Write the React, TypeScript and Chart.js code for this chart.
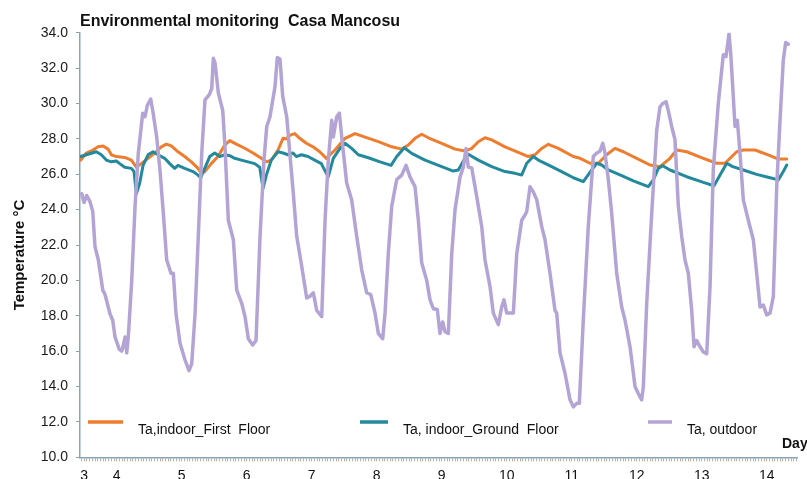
import React, { useEffect, useRef } from 'react';
import { Chart, registerables } from 'chart.js';

Chart.register(...registerables);

const TITLE = 'Environmental monitoring  Casa Mancosu';
const Y_TITLE = 'Temperature °C';
const X_TITLE = 'Day';
const SERIES_NAMES = ['Ta,indoor_First  Floor', 'Ta, indoor_Ground  Floor', 'Ta, outdoor'];
const COLORS = ['#ef7d2f', '#23899c', '#b4a4d6'];

const Y_MIN = 10;
const Y_MAX = 34;
const Y_STEP = 2;
const X_MIN = 3.435;
const X_MAX = 14.466;
const DAY_TICKS = [3.5, 4, 5, 6, 7, 8, 9, 10, 11, 12, 13, 14];
const DAY_LABELS = ['3', '4', '5', '6', '7', '8', '9', '10', '11', '12', '13', '14'];

// Ta, outdoor
const outdoorDay = [
  3.462, 3.497, 3.538, 3.589, 3.631, 3.666, 3.717, 3.785, 3.82, 3.897,
  3.938, 3.974, 4.04, 4.077, 4.102, 4.128, 4.154, 4.178, 4.231, 4.282,
  4.332, 4.4, 4.435, 4.471, 4.523, 4.554, 4.615, 4.666, 4.717, 4.769,
  4.835, 4.871, 4.912, 4.974, 5.051, 5.112, 5.154, 5.205, 5.255, 5.308,
  5.358, 5.425, 5.462, 5.486, 5.512, 5.563, 5.631, 5.666, 5.717, 5.794,
  5.846, 5.923, 5.974, 6.025, 6.092, 6.143, 6.205, 6.266, 6.308, 6.358,
  6.435, 6.471, 6.512, 6.554, 6.615, 6.717, 6.769, 6.846, 6.923, 6.974,
  7.025, 7.077, 7.154, 7.205, 7.255, 7.308, 7.332, 7.385, 7.425, 7.462,
  7.538, 7.615, 7.692, 7.769, 7.846, 7.908, 7.974, 8.025, 8.092, 8.128,
  8.178, 8.231, 8.308, 8.385, 8.451, 8.512, 8.589, 8.64, 8.692, 8.769,
  8.82, 8.871, 8.932, 8.974, 9.015, 9.051, 9.102, 9.154, 9.205, 9.282,
  9.332, 9.374, 9.409, 9.462, 9.538, 9.615, 9.666, 9.743, 9.794, 9.871,
  9.923, 9.958, 10.0, 10.102, 10.154, 10.231, 10.282, 10.308, 10.358, 10.409,
  10.462, 10.538, 10.589, 10.666, 10.743, 10.769, 10.82, 10.897, 10.974, 11.025,
  11.077, 11.117, 11.178, 11.255, 11.332, 11.385, 11.435, 11.477, 11.512, 11.563,
  11.615, 11.692, 11.769, 11.82, 11.897, 11.974, 12.025, 12.077, 12.102, 12.154,
  12.231, 12.308, 12.358, 12.4, 12.451, 12.486, 12.538, 12.589, 12.64, 12.692,
  12.743, 12.794, 12.846, 12.882, 12.923, 12.974, 13.025, 13.077, 13.128, 13.178,
  13.255, 13.308, 13.332, 13.374, 13.394, 13.42, 13.446, 13.477, 13.512, 13.548,
  13.589, 13.64, 13.717, 13.794, 13.846, 13.897, 13.948, 14.0, 14.051, 14.102,
  14.154, 14.205, 14.255, 14.292, 14.332,
];
const outdoorTemp = [
  24.9, 24.4, 24.8, 24.45, 23.9, 21.9, 21.15, 19.45, 19.2, 18.1,
  17.75, 16.8, 16.1, 16.0, 16.35, 16.8, 15.9, 16.8, 20.0, 24.2,
  27.2, 29.45, 29.25, 29.9, 30.25, 29.6, 28.1, 26.2, 23.8, 21.15,
  20.4, 20.4, 18.1, 16.45, 15.5, 14.9, 15.3, 18.1, 22.5, 27.2,
  30.2, 30.5, 30.85, 32.55, 32.3, 30.6, 29.6, 27.55, 23.4, 22.3,
  19.45, 18.7, 17.95, 16.7, 16.35, 16.6, 22.5, 26.8, 28.7, 29.25,
  30.95, 32.6, 32.5, 30.4, 29.25, 24.9, 22.5, 20.8, 19.0, 19.1,
  19.3, 18.3, 17.95, 23.4, 26.8, 29.05, 28.1, 29.25, 29.45, 28.1,
  25.5, 24.55, 22.5, 20.6, 19.3, 19.2, 18.15, 17.0, 16.7, 18.15,
  21.5, 24.2, 25.7, 25.95, 26.5, 25.85, 25.3, 23.4, 21.0, 20.0,
  18.9, 18.4, 18.35, 17.0, 17.65, 17.1, 17.0, 21.5, 24.0, 25.85,
  26.4, 27.45, 26.4, 26.35, 24.75, 23.05, 21.15, 19.65, 18.15, 17.5,
  18.5, 18.9, 18.15, 18.15, 21.5, 23.4, 23.7, 23.9, 25.3, 25.0,
  24.55, 23.05, 22.3, 20.4, 18.3, 18.15, 15.9, 14.75, 13.25, 12.85,
  13.05, 13.05, 17.75, 23.05, 27.0, 27.2, 27.3, 27.75, 27.2, 25.7,
  23.8, 20.4, 18.5, 17.75, 16.25, 14.0, 13.6, 13.25, 14.0, 18.7,
  23.8, 28.5, 29.8, 30.0, 30.1, 29.6, 28.7, 27.95, 24.2, 22.5,
  21.15, 20.4, 18.3, 16.25, 16.6, 16.25, 15.95, 15.85, 19.65, 26.25,
  30.0, 31.9, 32.75, 32.65, 33.2, 33.95, 32.85, 30.95, 28.7, 29.05,
  27.2, 24.55, 23.4, 22.3, 20.4, 18.5, 18.6, 18.05, 18.15, 19.1,
  25.3, 29.05, 32.45, 33.45, 33.35,
];

// Ta, indoor_First Floor
const firstFloorDay = [
  3.446, 3.532, 3.635, 3.712, 3.789, 3.866, 3.917, 3.994, 4.123, 4.225,
  4.302, 4.378, 4.482, 4.585, 4.686, 4.763, 4.84, 4.943, 5.046, 5.148,
  5.251, 5.302, 5.354, 5.455, 5.558, 5.662, 5.738, 5.84, 5.969, 6.097,
  6.225, 6.302, 6.378, 6.482, 6.558, 6.609, 6.662, 6.738, 6.815, 6.917,
  7.02, 7.123, 7.225, 7.358, 7.512, 7.666, 7.82, 8.025, 8.231, 8.385,
  8.486, 8.589, 8.692, 8.794, 9.0, 9.205, 9.358, 9.462, 9.563, 9.666,
  9.769, 9.974, 10.178, 10.332, 10.435, 10.538, 10.64, 10.794, 11.025, 11.128,
  11.282, 11.409, 11.538, 11.666, 11.794, 12.0, 12.205, 12.358, 12.512, 12.615,
  12.769, 13.025, 13.231, 13.358, 13.538, 13.64, 13.82, 14.051, 14.178, 14.308,
];
const firstFloorTemp = [
  26.8, 27.2, 27.37, 27.55, 27.6, 27.42, 27.1, 27.0, 26.95, 26.8,
  26.4, 26.6, 26.9, 27.2, 27.55, 27.7, 27.6, 27.27, 27.0, 26.7,
  26.33, 26.05, 26.15, 26.6, 27.0, 27.65, 27.9, 27.7, 27.47, 27.2,
  26.9, 26.7, 26.8, 27.37, 28.03, 27.99, 28.2, 28.3, 28.03, 27.75,
  27.55, 27.27, 26.9, 27.37, 28.03, 28.3, 28.1, 27.84, 27.55, 27.42,
  27.65, 28.03, 28.26, 28.06, 27.75, 27.42, 27.31, 27.46, 27.84, 28.06,
  27.94, 27.55, 27.24, 27.0, 27.1, 27.46, 27.69, 27.46, 27.0, 26.9,
  26.62, 26.62, 27.1, 27.46, 27.27, 26.9, 26.52, 26.43, 26.9, 27.37,
  27.27, 26.9, 26.62, 26.62, 27.27, 27.37, 27.37, 27.05, 26.86, 26.86,
];

// Ta, indoor_Ground Floor
const groundFloorDay = [
  3.446, 3.558, 3.686, 3.763, 3.84, 3.917, 3.994, 4.046, 4.123, 4.225,
  4.266, 4.302, 4.354, 4.405, 4.482, 4.558, 4.635, 4.738, 4.815, 4.892,
  4.943, 5.046, 5.174, 5.251, 5.292, 5.354, 5.431, 5.508, 5.585, 5.662,
  5.738, 5.815, 5.917, 6.02, 6.123, 6.2, 6.251, 6.302, 6.378, 6.482,
  6.558, 6.635, 6.712, 6.763, 6.84, 6.943, 7.046, 7.148, 7.225, 7.255,
  7.332, 7.435, 7.512, 7.615, 7.717, 7.871, 8.051, 8.22, 8.308, 8.425,
  8.538, 8.743, 9.0, 9.178, 9.255, 9.358, 9.409, 9.563, 9.769, 9.974,
  10.128, 10.231, 10.308, 10.409, 10.486, 10.692, 10.897, 11.025, 11.178, 11.308,
  11.385, 11.462, 11.563, 11.743, 11.948, 12.178, 12.255, 12.332, 12.4, 12.512,
  12.769, 13.025, 13.189, 13.282, 13.385, 13.477, 13.64, 13.846, 14.051, 14.178,
  14.255, 14.308,
];
const groundFloorTemp = [
  27.0, 27.13, 27.27, 27.1, 26.8, 26.7, 26.75, 26.6, 26.4, 26.33,
  26.15, 24.9, 25.5, 26.5, 27.1, 27.27, 27.1, 26.9, 26.6, 26.33,
  26.5, 26.33, 26.15, 25.95, 25.8, 26.33, 27.0, 27.2, 27.0, 27.1,
  27.05, 26.9, 26.8, 26.7, 26.6, 26.4, 25.2, 25.95, 26.8, 27.27,
  27.2, 27.1, 27.2, 27.0, 27.1, 27.0, 26.8, 26.6, 26.05, 25.86,
  26.9, 27.46, 27.75, 27.46, 27.1, 26.93, 26.7, 26.5, 27.0, 27.5,
  27.18, 26.8, 26.43, 26.18, 26.24, 26.9, 27.13, 26.8, 26.43, 26.15,
  26.05, 25.96, 26.62, 27.0, 26.8, 26.43, 26.05, 25.8, 25.58, 26.24,
  26.62, 26.52, 26.24, 25.96, 25.62, 25.3, 25.68, 26.33, 26.48, 26.24,
  25.86, 25.54, 25.35, 25.96, 26.62, 26.43, 26.24, 25.99, 25.8, 25.68,
  26.15, 26.52,
];

const FONT = '"Liberation Sans", Arial, Helvetica, sans-serif';

const toPoints = (xs: number[], ys: number[]) => xs.map((x, i) => ({ x, y: ys[i] }));

const overlayPlugin = {
  id: 'overlayText',
  afterDraw(chart: any) {
    const ctx = chart.ctx as CanvasRenderingContext2D;
    ctx.save();
    ctx.fillStyle = '#111';
    ctx.textAlign = 'left';
    ctx.textBaseline = 'alphabetic';
    ctx.font = `bold 16px ${FONT}`;
    ctx.fillText(TITLE, 80, 26);

    ctx.save();
    ctx.translate(20, 255);
    ctx.rotate(-Math.PI / 2);
    ctx.textAlign = 'center';
    ctx.textBaseline = 'middle';
    ctx.font = `bold 15px ${FONT}`;
    ctx.fillText(Y_TITLE, 0, 0);
    ctx.restore();

    ctx.font = `bold 14px ${FONT}`;
    ctx.fillText(X_TITLE, 782, 448);

    // legend
    const legendX = [[88, 123, 138], [360, 388, 403], [648, 672, 687]];
    ctx.font = `14px ${FONT}`;
    [0, 1, 2].forEach((i) => {
      const [x0, x1, tx] = legendX[i];
      ctx.strokeStyle = COLORS[i];
      ctx.lineWidth = 3.5;
      ctx.lineCap = 'butt';
      ctx.beginPath();
      ctx.moveTo(x0, 422);
      ctx.lineTo(x1, 422);
      ctx.stroke();
      ctx.fillStyle = '#111';
      ctx.fillText(SERIES_NAMES[i], tx, 434);
    });
    ctx.restore();
  },
};

export default function App() {
  const canvasRef = useRef<HTMLCanvasElement | null>(null);

  useEffect(() => {
    if (!canvasRef.current) return;
    const lineStyle = {
      pointRadius: 0,
      pointHoverRadius: 0,
      tension: 0,
      fill: false,
      borderJoinStyle: 'round' as const,
      borderCapStyle: 'round' as const,
    };
    const chart = new Chart(canvasRef.current, {
      type: 'line',
      data: {
        datasets: [
          { label: SERIES_NAMES[2], data: toPoints(outdoorDay, outdoorTemp), borderColor: COLORS[2], backgroundColor: COLORS[2], borderWidth: 3.5, ...lineStyle },
          { label: SERIES_NAMES[1], data: toPoints(groundFloorDay, groundFloorTemp), borderColor: COLORS[1], backgroundColor: COLORS[1], borderWidth: 3, ...lineStyle },
          { label: SERIES_NAMES[0], data: toPoints(firstFloorDay, firstFloorTemp), borderColor: COLORS[0], backgroundColor: COLORS[0], borderWidth: 3, ...lineStyle },
        ],
      },
      options: {
        animation: false,
        responsive: true,
        maintainAspectRatio: false,
        layout: { padding: { top: 32.7, right: 10, bottom: 0, left: 0 } },
        plugins: { legend: { display: false }, title: { display: false }, tooltip: { enabled: false } },
        scales: {
          x: {
            type: 'linear',
            min: X_MIN,
            max: X_MAX,
            afterFit: (scale: any) => { scale.height = 479 - 457.3; },
            afterBuildTicks: (scale: any) => {
              const ticks: { value: number }[] = [];
              const start = Math.ceil(X_MIN * 24);
              const end = Math.floor(X_MAX * 24);
              for (let h = start; h <= end; h++) ticks.push({ value: h / 24 });
              scale.ticks = ticks;
            },
            ticks: {
              autoSkip: false,
              maxRotation: 0,
              padding: 6,
              color: '#111',
              font: { family: FONT, size: 14 },
              callback: (value: any) => {
                const v = Number(value);
                const idx = DAY_TICKS.findIndex((d) => Math.abs(d - v) < 1e-6);
                return idx >= 0 ? DAY_LABELS[idx] : '';
              },
            },
            grid: { drawOnChartArea: false, drawTicks: true, tickLength: 4, color: '#c9ab9c', lineWidth: 1 },
            border: { display: true, color: '#86a6b6', width: 1.5 },
          },
          y: {
            type: 'linear',
            min: Y_MIN,
            max: Y_MAX,
            afterFit: (scale: any) => { scale.width = 80; },
            ticks: {
              stepSize: Y_STEP,
              padding: 8,
              color: '#1a1a1a',
              font: { family: FONT, size: 14 },
              callback: (value: any) => Number(value).toFixed(1),
            },
            grid: { drawOnChartArea: false, drawTicks: true, tickLength: 4, color: '#86a6b6', lineWidth: 1 },
            border: { display: true, color: '#86a6b6', width: 1.5 },
          },
        },
      },
      plugins: [overlayPlugin],
    } as any);
    return () => chart.destroy();
  }, []);

  return (
    <div style={{ position: 'absolute', left: 0, top: 0, width: 807, height: 479, background: '#fff' }}>
      <canvas ref={canvasRef} />
    </div>
  );
}
